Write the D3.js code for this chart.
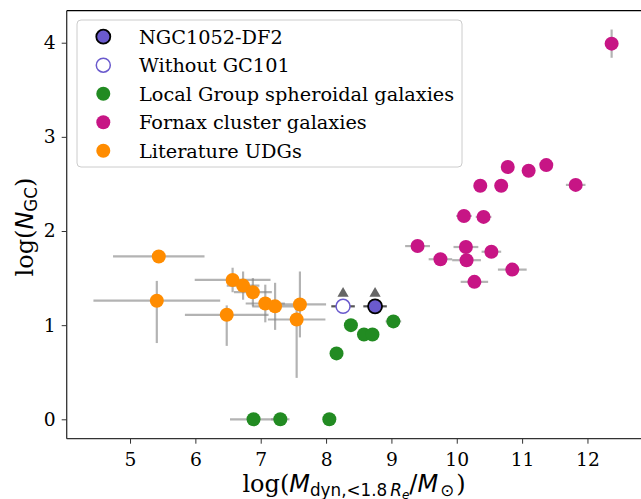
<!DOCTYPE html>
<html>
<head>
<meta charset="utf-8">
<script src="https://cdn.jsdelivr.net/npm/d3@7"></script>
<style>
  body { margin: 0; background: #fff; }
  svg { display: block; }
  .tick text { font-family: "DejaVu Serif"; font-size: 18.7px; fill: #000; }
</style>
</head>
<body>
<div id="chart"></div>
<script>
const WIDTH = 641, HEIGHT = 499;

// Local Group spheroidal galaxies
const lgX = [8.38, 8.58, 8.71, 9.03, 8.16, 6.89, 7.30, 8.05];
const lgY = [1.00, 0.90, 0.90, 1.04, 0.70, 0.00, 0.00, 0.00];
const lgXerr = [0, 0, 0, 0.12, 0, 0.36, 0.14, 0];

// Fornax cluster galaxies
const fxX = [10.78, 11.10, 11.37, 10.36, 10.68, 11.82, 10.11, 10.41, 9.40, 10.14, 10.53, 9.75, 10.15, 10.85, 10.27, 12.37];
const fxY = [2.68, 2.64, 2.70, 2.48, 2.48, 2.49, 2.16, 2.15, 1.84, 1.83, 1.78, 1.70, 1.69, 1.59, 1.46, 3.99];
const fxXerr = [0, 0, 0, 0, 0, 0.15, 0.12, 0.12, 0.19, 0.19, 0.15, 0.18, 0.22, 0.22, 0.21, 0];
const fxYerr = [0, 0, 0, 0, 0, 0, 0, 0, 0, 0, 0, 0, 0, 0, 0.05, 0.15];

// Literature UDGs
const udgX = [5.44, 5.41, 6.57, 6.73, 6.88, 7.07, 7.22, 7.60, 6.48, 7.55];
const udgY = [1.73, 1.26, 1.48, 1.42, 1.35, 1.23, 1.20, 1.22, 1.11, 1.06];
const udgXerr = [0.70, 0.97, 0.58, 0.25, 0.29, 0.30, 0.35, 0.40, 0.64, 0.44];
const udgYlo = [0, 0.45, 0.13, 0.15, 0.15, 0.20, 0.25, 0.35, 0.33, 0.62];
const udgYhi = [0, 0.21, 0.13, 0.15, 0.15, 0.20, 0.25, 0.35, 0.10, 0.20];

// NGC1052-DF2 and without GC101 (lower limits)
const df2X = [8.75], df2Y = [1.20];
const noGcX = [8.26], noGcY = [1.20];
const df2Xerr = 0.18;
const limitArrow = 0.135;

const xTicks = [5, 6, 7, 8, 9, 10, 11, 12];
const yTicks = [0, 1, 2, 3, 4];

const legendLabels = ["NGC1052-DF2", "Without GC101", "Local Group spheroidal galaxies",
                      "Fornax cluster galaxies", "Literature UDGs"];

const COL_DF2 = "#6a5acd", COL_LG = "#228b22", COL_FX = "#c71585", COL_UDG = "#ff8c00";
const R = 7;

const svg = d3.select("#chart").append("svg")
    .attr("width", WIDTH).attr("height", HEIGHT);

const x = d3.scaleLinear().domain([4.031, 12.85]).range([66.7, 643]);
const y = d3.scaleLinear().domain([-0.206, 4.34]).range([438.7, 10.7]);

const zip = (xs, ys) => xs.map((v, i) => ({x: v, y: ys[i], i}));

// axes
const gx = svg.append("g").attr("transform", "translate(0,438.7)")
    .call(d3.axisBottom(x).tickValues(xTicks).tickFormat(d3.format("d")).tickSize(5).tickPadding(9));
const gy = svg.append("g").attr("transform", "translate(66.7,0)")
    .call(d3.axisLeft(y).tickValues(yTicks).tickFormat(d3.format("d")).tickSize(5).tickPadding(6));
[gx, gy].forEach(g => {
    g.select(".domain").remove();
    g.selectAll(".tick line").attr("stroke", "#333").attr("stroke-width", 1);
});

// spines
svg.append("line").attr("x1", 66.7).attr("x2", 66.7).attr("y1", 10.7).attr("y2", 438.7)
    .attr("stroke", "#333").attr("stroke-width", 1.3);
svg.append("line").attr("x1", 66.7).attr("x2", 643).attr("y1", 438.7).attr("y2", 438.7)
    .attr("stroke", "#333").attr("stroke-width", 1.3);
svg.append("line").attr("x1", 66.7).attr("x2", 643).attr("y1", 10.7).attr("y2", 10.7)
    .attr("stroke", "#000").attr("stroke-width", 1.3);

const errG = svg.append("g").attr("stroke", "gray").attr("stroke-opacity", 0.6).attr("stroke-width", 2.2);
function hErr(pts, errs) {
    errG.selectAll(null).data(pts.filter(d => errs[d.i] > 0)).enter().append("line")
        .attr("x1", d => x(d.x - errs[d.i])).attr("x2", d => x(d.x + errs[d.i]))
        .attr("y1", d => y(d.y)).attr("y2", d => y(d.y));
}
function vErr(pts, lo, hi) {
    errG.selectAll(null).data(pts.filter(d => lo[d.i] > 0 || hi[d.i] > 0)).enter().append("line")
        .attr("x1", d => x(d.x)).attr("x2", d => x(d.x))
        .attr("y1", d => y(d.y - lo[d.i])).attr("y2", d => y(d.y + hi[d.i]));
}
function dots(pts, fill, stroke, sw) {
    svg.append("g").selectAll("circle").data(pts).enter().append("circle")
        .attr("cx", d => x(d.x)).attr("cy", d => y(d.y)).attr("r", R)
        .attr("fill", fill).attr("stroke", stroke || "none").attr("stroke-width", sw || 0);
}

const lgPts = zip(lgX, lgY), fxPts = zip(fxX, fxY), udgPts = zip(udgX, udgY);
const df2Pts = zip(df2X, df2Y), noGcPts = zip(noGcX, noGcY);

hErr(lgPts, lgXerr);
hErr(fxPts, fxXerr); vErr(fxPts, fxYerr, fxYerr);
hErr(udgPts, udgXerr); vErr(udgPts, udgYlo, udgYhi);

// DF2 error bars and lower-limit arrows
[df2Pts, noGcPts].forEach(pts => {
    svg.append("g").selectAll("line").data(pts).enter().append("line")
        .attr("x1", d => x(d.x - df2Xerr)).attr("x2", d => x(d.x + df2Xerr))
        .attr("y1", d => y(d.y)).attr("y2", d => y(d.y))
        .attr("stroke", "#555").attr("stroke-width", 2.2);
    svg.append("g").selectAll("path").data(pts).enter().append("path")
        .attr("d", d3.symbol(d3.symbolTriangle, 55))
        .attr("transform", d => `translate(${x(d.x)},${y(d.y + limitArrow)})`)
        .attr("fill", "#666");
});

dots(lgPts, COL_LG);
dots(fxPts, COL_FX);
dots(udgPts, COL_UDG);
dots(noGcPts, "#fff", COL_DF2, 1.5);
dots(df2Pts, COL_DF2, "#000", 1.8);

// legend
const leg = svg.append("g");
leg.append("rect").attr("x", 77).attr("y", 20).attr("width", 385).attr("height", 147)
    .attr("rx", 4).attr("fill", "#fff").attr("fill-opacity", 0.8)
    .attr("stroke", "#ccc").attr("stroke-width", 1);
const legStyles = [
    {fill: COL_DF2, stroke: "#000", sw: 1.8},
    {fill: "#fff", stroke: COL_DF2, sw: 1.5},
    {fill: COL_LG}, {fill: COL_FX}, {fill: COL_UDG}
];
legendLabels.forEach((lab, i) => {
    const cy = 36.7 + i * 28.5;
    const s = legStyles[i];
    leg.append("circle").attr("cx", 103.3).attr("cy", cy).attr("r", R)
        .attr("fill", s.fill).attr("stroke", s.stroke || "none").attr("stroke-width", s.sw || 0);
    leg.append("text").attr("x", 139).attr("y", cy + 6.8)
        .style("font-family", "DejaVu Serif").style("font-size", "19.3px").text(lab);
});

// axis labels
const xl = svg.append("text").attr("x", 354).attr("y", 492).attr("text-anchor", "middle")
    .style("font-size", "24px").style("font-family", "DejaVu Serif");
xl.append("tspan").text("log(");
xl.append("tspan").style("font-family", "DejaVu Sans").style("font-style", "italic").text("M");
xl.append("tspan").attr("dy", 4).style("font-family", "DejaVu Sans").style("font-size", "16.8px").text("dyn,<1.8");
xl.append("tspan").attr("dx", 3).style("font-family", "DejaVu Sans").style("font-style", "italic").style("font-size", "16.8px").text("R");
xl.append("tspan").attr("dy", 3).style("font-family", "DejaVu Sans").style("font-style", "italic").style("font-size", "12px").text("e");
xl.append("tspan").attr("dy", -7).style("font-family", "DejaVu Sans").text("/");
xl.append("tspan").style("font-family", "DejaVu Sans").style("font-style", "italic").text("M");
xl.append("tspan").attr("dy", 4).attr("dx", 2).style("font-family", "DejaVu Sans").style("font-size", "16.8px").text("⊙");
xl.append("tspan").attr("dy", -4).attr("dx", 2).text(")");

const yl = svg.append("text").attr("transform", "translate(33,227) rotate(-90)").attr("text-anchor", "middle")
    .style("font-size", "24px").style("font-family", "DejaVu Serif");
yl.append("tspan").text("log(");
yl.append("tspan").style("font-family", "DejaVu Sans").style("font-style", "italic").text("N");
yl.append("tspan").attr("dy", 4).style("font-family", "DejaVu Sans").style("font-size", "16.8px").text("GC");
yl.append("tspan").attr("dy", -4).text(")");
</script>
</body>
</html>
